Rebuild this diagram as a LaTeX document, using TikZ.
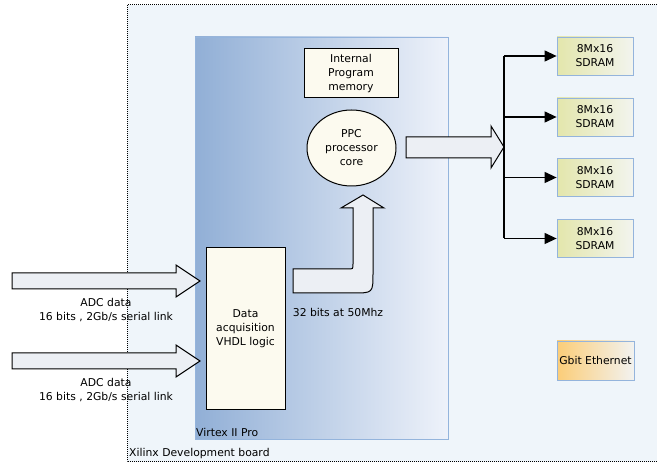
\documentclass[tikz,border=0pt]{standalone}
\usepackage{fontspec}
\setmainfont{DejaVu Sans}
\usepackage{tikz}
\usetikzlibrary{arrows.meta}
\usetikzlibrary{shapes.geometric}
\definecolor{boardbg}{HTML}{EFF5FA}
\definecolor{virtexl}{HTML}{91AFD6}
\definecolor{virtexr}{HTML}{EEF2FA}
\definecolor{virtexline}{HTML}{94B4DC}
\definecolor{sdraml}{HTML}{E3E6AC}
\definecolor{sdramr}{HTML}{F2F4EE}
\definecolor{ethl}{HTML}{FBCD78}
\definecolor{ethr}{HTML}{F2F2F0}
\definecolor{cream}{HTML}{FCFAEF}
\definecolor{arrowfill}{HTML}{ECEFF4}

\begin{document}
\begin{tikzpicture}[x=1pt, y=-1pt, font=\fontsize{10.8}{14}\selectfont,
    chip/.style={draw=virtexline, line width=0.8pt, minimum width=76pt, minimum height=38pt, align=center, inner sep=0pt},
    blockarrow/.style={draw, line width=1pt, fill=arrowfill, line join=miter},
    busline/.style={line width=1.2pt, -{Triangle[length=12pt, width=11pt]}}]
    \useasboundingbox (0,0) rectangle (657,465);
    \clip (0,0) rectangle (657,465);
    % development board
    \fill[boardbg] (127,5) rectangle (690,462);
    \draw[dash pattern=on 1pt off 1pt, line width=1pt] (127,5) rectangle (690,462);
    \node[anchor=west, inner sep=0pt] (0) at (129,454) {Xilinx Development board};
    % FPGA
    \node[draw=virtexline, line width=0.8pt, left color=virtexl, right color=virtexr, minimum width=253pt, minimum height=402pt] (1) at (321.5,238) {};
    \node[anchor=west, inner sep=0pt] (2) at (196,432) {Virtex II Pro};
    \node[draw, line width=1pt, fill=cream, minimum width=94pt, minimum height=49pt, align=center, inner sep=0pt] (3) at (351,73.5) {Internal\\Program\\memory};
    \node[draw, line width=1pt, fill=cream, ellipse, minimum width=89pt, minimum height=76pt, align=center, inner sep=0pt] (4) at (351.5,148) {PPC\\processor\\core};
    \node[draw, line width=1pt, fill=cream, minimum width=79pt, minimum height=162pt, align=center, inner sep=0pt] (5) at (245.5,329) {Data\\acquisition\\VHDL logic};
    % memories
    \node[chip, left color=sdraml, right color=sdramr] (6) at (595,56) {8Mx16\\SDRAM};
    \node[chip, left color=sdraml, right color=sdramr] (7) at (595,117) {8Mx16\\SDRAM};
    \node[chip, left color=sdraml, right color=sdramr] (8) at (595,177.5) {8Mx16\\SDRAM};
    \node[chip, left color=sdraml, right color=sdramr] (9) at (595,238.5) {8Mx16\\SDRAM};
    \node[chip, left color=ethl, right color=ethr, minimum width=77pt, minimum height=39pt] (10) at (595.5,360.5) {Gbit Ethernet};
    % ADC links
    \draw[blockarrow] (12,273) -- (176,273) -- (176,265) -- (200,281) -- (176,297) -- (176,289) -- (12,289) -- cycle;
    \node[align=center, inner sep=0pt] (11) at (106,310) {ADC data\\16 bits , 2Gb/s serial link};
    \draw[blockarrow] (12,353) -- (176,353) -- (176,345) -- (200,361) -- (176,377) -- (176,369) -- (12,369) -- cycle;
    \node[align=center, inner sep=0pt] (12) at (106,390) {ADC data\\16 bits , 2Gb/s serial link};
    % bus to processor
    \draw[blockarrow] (293,293) -- (293,269) -- (348,269) .. controls (353,269) .. (353,264) -- (353,208) -- (341,208) -- (363,195) -- (384,208) -- (373,208) -- (373,273) .. controls (373,293) .. (353,293) -- cycle;
    \node[inner sep=0pt] (13) at (338,312) {32 bits at 50Mhz};
    % processor to memories
    \draw[blockarrow] (406,137) -- (491,137) -- (491,126) -- (504,147) -- (491,168) -- (491,158) -- (406,158) -- cycle;
    \coordinate (b6) at (504,56);
    \coordinate (b7) at (504,117);
    \coordinate (b8) at (504,177.5);
    \coordinate (b9) at (504,238.5);
    \draw[line width=1.2pt] (b6) -- (b9);
    \draw[busline] (b6) -- (6.west);
    \draw[busline] (b7) -- (7.west);
    \draw[busline] (b8) -- (8.west);
    \draw[busline] (b9) -- (9.west);
\end{tikzpicture}
\end{document}
